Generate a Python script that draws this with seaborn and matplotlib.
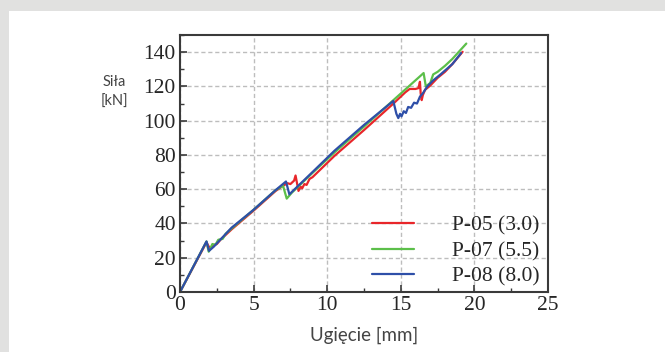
import numpy as np
import pandas as pd
import matplotlib
matplotlib.use("Agg")
import matplotlib.pyplot as plt
from matplotlib.patches import Rectangle
from matplotlib.ticker import MultipleLocator
import seaborn as sns

series_names = ["P-05 (3.0)", "P-07 (5.5)", "P-08 (8.0)"]

p05_x = [0, 1.8, 2.05, 2.3, 2.5, 2.8, 3.0, 3.5, 5, 6.5, 7.0, 7.3, 7.5, 7.75, 7.85, 8.05, 8.2, 8.3, 8.45, 8.6, 8.8, 9.0,
         10.5, 12.5, 14.5, 15.3, 15.6, 16.0, 16.2, 16.3, 16.35, 16.42, 16.5, 16.65, 17.0, 17.5, 18.0, 18.5, 19.2]
p05_y = [0, 29, 25, 27.5, 28, 31, 32.5, 36.5, 47.5, 59, 62, 63.5, 63, 65, 68, 59, 61.5, 60.5, 63, 62.5, 66, 67,
         79.5, 94.5, 110, 116.5, 118.5, 118.5, 119, 122.7, 116, 112, 115, 118, 120.5, 125, 128.5, 133, 140.2]

p07_x = [0, 1.8, 1.95, 2.2, 2.4, 2.6, 2.9, 3.1, 3.5, 5, 6.5, 7.0, 7.25, 7.6, 9, 10.5, 12.5, 14.5, 16.55, 16.7,
         17.0, 17.2, 17.5, 18.0, 18.5, 19.45]
p07_y = [0, 29.5, 23.5, 28, 27.5, 30.5, 31, 34, 37, 48, 59.5, 62, 54.5, 58, 69.5, 81.5, 96.5, 112, 127.8, 120,
         122, 127, 128.5, 132, 136, 145]

p08_x = [0, 1.8, 1.97, 2.3, 3.5, 5, 6.5, 7.2, 7.43, 9, 10.5, 12.5, 14.49, 14.7, 14.83, 14.95, 15.05, 15.2, 15.35,
         15.5, 15.7, 15.9, 16.1, 16.3, 16.5, 16.8, 17.2, 17.7, 18.5, 19.1]
p08_y = [0, 29.5, 24, 26.5, 37.5, 48, 59.5, 64.5, 57, 70, 82.5, 97.5, 111.5, 104, 101.5, 104, 102.5, 105.5, 104.5,
         108, 107.5, 110.5, 110, 114, 116, 120, 123.5, 127, 133, 139.5]

colors = ["#e8262a", "#5cbf4a", "#2e4fa8"]

frames = []
for name, xs, ys in zip(series_names, [p05_x, p07_x, p08_x], [p05_y, p07_y, p08_y]):
    frames.append(pd.DataFrame({"x": xs, "y": ys, "series": name}))
df = pd.concat(frames, ignore_index=True)

sns.set_style("white")
fig = plt.figure(figsize=(6.65, 3.52), dpi=100, facecolor="#e1e1e0")
bg = fig.add_axes([9 / 665, 0, 1 - 9 / 665, (352 - 11) / 352], zorder=-5)
bg.set_facecolor("white")
bg.set_axis_off()
bg.add_patch(Rectangle((0, 0), 1, 1, transform=bg.transAxes, facecolor="white", edgecolor="none"))

ax = fig.add_axes([180 / 665, (352 - 292) / 352, (548 - 180) / 665, (292 - 35) / 352], zorder=1)
ax.set_facecolor("white")

sns.lineplot(data=df, x="x", y="y", hue="series", hue_order=series_names, palette=colors,
             sort=False, estimator=None, linewidth=1.6, ax=ax, legend=True)

ax.set_xlim(0, 25)
ax.set_ylim(0, 150)
ax.xaxis.set_major_locator(MultipleLocator(5))
ax.xaxis.set_minor_locator(MultipleLocator(2.5))
ax.yaxis.set_minor_locator(MultipleLocator(10))
ax.set_yticks(np.arange(0, 141, 20))
ax.grid(True, which="major", color="#bdbdbd", linestyle=(0, (3, 2)), linewidth=1.0)
ax.set_axisbelow(True)
for s in ax.spines.values():
    s.set_color("#3a3a3a")
    s.set_linewidth(1.5)
ax.tick_params(which="both", direction="in", bottom=True, left=True, top=False, right=False, color="#3a3a3a")
ax.tick_params(which="major", length=5, width=1.2, labelsize=15.5, pad=3)
ax.tick_params(which="minor", length=3, width=1.0)
for lab in ax.get_xticklabels() + ax.get_yticklabels():
    lab.set_fontfamily("Liberation Serif")

ax.set_xlabel("Ugięcie [mm]", fontfamily="Lato", fontsize=13.5, color="#444444", labelpad=8)
ax.set_ylabel("")
fig.text(114 / 665, 1 - 92 / 352, "Siła\n[kN]", fontfamily="Lato", fontsize=10.5, color="#444444",
         ha="center", va="center", linespacing=1.5)

handles, labels = ax.get_legend_handles_labels()
leg = ax.legend(handles, labels, loc="center left", bbox_to_anchor=(0.5217, 0.159), frameon=False,
                prop={"family": "Liberation Serif", "size": 15.5}, handlelength=1.95, handletextpad=1.75,
                labelspacing=0.26, borderpad=0, borderaxespad=0)

fig.savefig("out.png", dpi=100, facecolor=fig.get_facecolor())
